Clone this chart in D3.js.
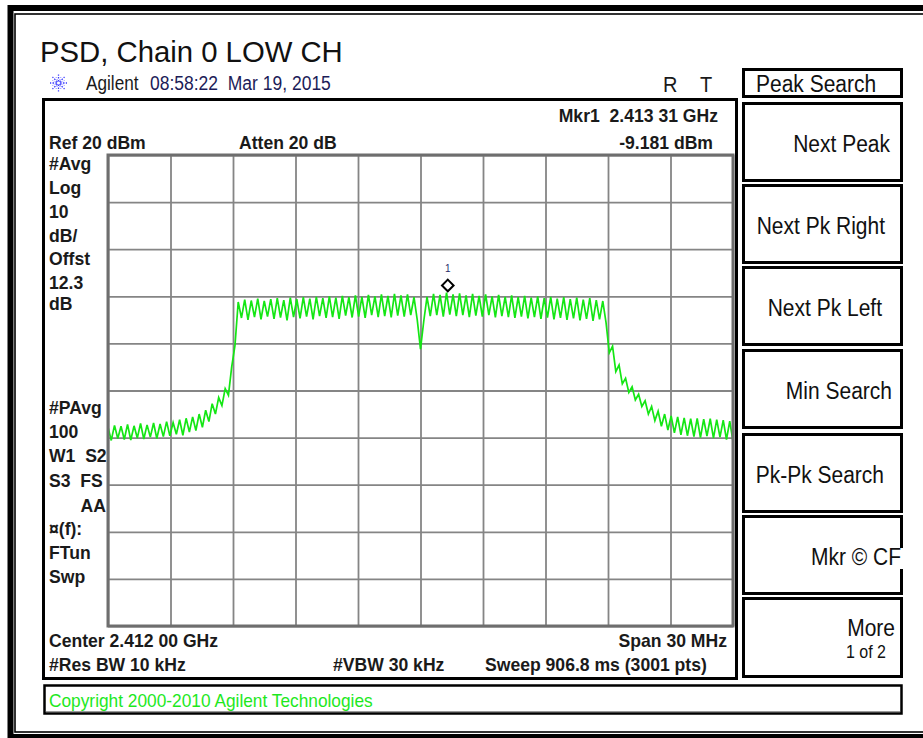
<!DOCTYPE html>
<html><head><meta charset="utf-8">
<script src="https://cdn.jsdelivr.net/npm/d3@7"></script>
<style>
html,body{margin:0;padding:0;background:#fff;}
svg{display:block;font-family:"Liberation Sans",Arial,sans-serif;}
text{white-space:pre;}
</style></head><body>
<svg id="c" width="923" height="738"></svg>
<script>
// ---------------- data ----------------
const titleText = "PSD, Chain 0 LOW CH";
const freqStartMHz = 2397, freqStopMHz = 2427, freqStepMHz = 0.15625;
const freqTicksMHz = [2397,2400,2403,2406,2409,2412,2415,2418,2421,2424,2427];
const levelTicksDbm = [20,10,0,-10,-20,-30,-40,-50,-60,-70,-80];
const traceDbm = [
 -37.8,-40.6,-37.4,-40.2,-37.6,-40.4,-37.2,-40.5,-37.5,-40.1,
 -37.0,-40.3,-37.3,-39.9,-36.9,-40.2,-37.1,-39.8,-36.6,-39.6,
 -36.8,-39.3,-36.2,-39.5,-35.9,-38.8,-35.6,-38.5,-35.0,-37.8,
 -34.2,-36.6,-32.8,-35.0,-31.5,-33.2,-29.6,-31.0,-25.0,-20.5,
 -11.2,-14.6,-10.7,-15.0,-10.9,-14.4,-10.5,-14.9,-11.0,-14.3,
 -10.6,-14.8,-10.4,-14.5,-10.8,-15.1,-10.3,-14.4,-10.6,-14.7,
 -10.2,-14.3,-10.5,-14.9,-10.1,-14.2,-10.4,-14.6,-10.0,-14.4,
 -10.3,-14.8,-9.9,-14.1,-10.2,-14.5,-9.8,-14.3,-10.1,-14.6,
 -9.7,-14.0,-10.0,-14.4,-9.6,-14.2,-9.9,-14.5,-9.5,-14.1,
 -9.8,-14.3,-9.6,-14.0,-10.2,-15.0,-21.2,-15.3,-10.1,-14.2,
 -9.5,-14.0,-9.7,-14.3,-9.2,-13.9,-9.6,-14.2,-9.4,-14.0,
 -9.8,-14.4,-9.5,-14.1,-9.9,-14.3,-9.6,-14.0,-10.0,-14.5,
 -9.7,-14.2,-10.1,-14.4,-9.8,-14.6,-10.2,-14.3,-9.9,-14.7,
 -10.3,-14.4,-10.0,-14.8,-10.4,-14.5,-10.1,-14.9,-10.5,-14.6,
 -10.2,-15.0,-10.6,-14.7,-10.3,-15.1,-10.7,-14.8,-10.4,-15.2,
 -10.8,-14.9,-11.0,-15.6,-22.0,-20.6,-26.0,-24.6,-28.6,-27.4,
 -30.4,-29.2,-32.0,-30.8,-33.4,-32.2,-35.0,-33.4,-36.4,-34.4,
 -37.6,-35.0,-38.4,-35.4,-39.0,-35.6,-39.4,-35.8,-39.6,-36.0,
 -39.8,-35.9,-40.0,-36.1,-39.7,-36.0,-40.1,-36.2,-39.9,-36.3,
 -40.4,-36.5,-40.8
];
const markerFreqMHz = [2413.31];
const markerDbm = [-9.181];
const markerNames = ["1"];
const leftLabels = ["#Avg","Log","10","dB/","Offst","12.3","dB","#PAvg","100","W1  S2","S3  FS","AA","\u00a4(f):","FTun","Swp"];
const softkeyLabels = ["Next Peak","Next Pk Right","Next Pk Left","Min Search","Pk-Pk Search","Mkr \u00a9 CF","More"];
const menuTitle = "Peak Search";
const headerTexts = ["Agilent","08:58:22  Mar 19, 2015","R","T"];
const infoTexts = ["Ref 20 dBm","Atten 20 dB","Mkr1  2.413 31 GHz","-9.181 dBm",
  "Center 2.412 00 GHz","Span 30 MHz","#Res BW 10 kHz","#VBW 30 kHz","Sweep 906.8 ms (3001 pts)"];
const copyrightText = "Copyright 2000-2010 Agilent Technologies";

// ---------------- layout ----------------
const svg = d3.select("#c");
const PL = 108, PR = 733, PT = 155, PB = 626;
const x = d3.scaleLinear().domain([freqStartMHz, freqStopMHz]).range([PL, PR]);
const y = d3.scaleLinear().domain([-80, 20]).range([PB, PT]);

// text helper with slight vertical stretch (instrument screen font)
function txt(t, xx, yy, opts){
  const o = Object.assign({size:17, weight:"normal", fill:"#1a1a1a", anchor:"start", sy:1.1}, opts||{});
  return svg.append("text").attr("transform",`translate(${xx},${yy}) scale(1,${o.sy})`)
    .attr("font-size",o.size).attr("font-weight",o.weight).attr("fill",o.fill)
    .attr("text-anchor",o.anchor).text(t);
}

// outer frame
svg.append("rect").attr("x",10.5).attr("y",8).attr("width",930).attr("height",729)
  .attr("fill","none").attr("stroke","#000").attr("stroke-width",6);
svg.append("rect").attr("x",15).attr("y",14).attr("width",920).attr("height",718)
  .attr("fill","none").attr("stroke","#000").attr("stroke-width",1.6);

// title
txt(titleText, 40, 62, {size:29.3, fill:"#111", sy:1.03});

// Agilent logo (dotted starburst)
const logo = svg.append("g").attr("transform","translate(58.5,83)");
for (let k=0;k<8;k++){
  const a = k*Math.PI/4;
  logo.append("line").attr("x1",1.5*Math.cos(a)).attr("y1",1.5*Math.sin(a))
    .attr("x2",8.5*Math.cos(a)).attr("y2",8.5*Math.sin(a))
    .attr("stroke","#3a3aff").attr("stroke-width",1.3).attr("stroke-dasharray","1.6,1.3");
}
for (let k=0;k<8;k++){
  const a = k*Math.PI/4+Math.PI/8;
  logo.append("line").attr("x1",3*Math.cos(a)).attr("y1",3*Math.sin(a))
    .attr("x2",6.5*Math.cos(a)).attr("y2",6.5*Math.sin(a))
    .attr("stroke","#7a7aff").attr("stroke-width",1).attr("stroke-dasharray","1.2,1.4");
}
txt(headerTexts[0], 86, 90, {size:17.2, sy:1.15});
txt(headerTexts[1], 150, 90, {size:17.5, fill:"#1c1c58", sy:1.15});
txt(headerTexts[2], 663, 92, {size:20});
txt(headerTexts[3], 700, 92, {size:20});

// main panel
svg.append("rect").attr("x",43.5).attr("y",99.5).attr("width",693).attr("height",579)
  .attr("fill","none").attr("stroke","#000").attr("stroke-width",3);

// grid via axes
const gx = svg.append("g").attr("transform",`translate(0,${PB})`)
  .call(d3.axisBottom(x).tickValues(freqTicksMHz).tickSize(-(PB-PT)).tickFormat(""));
const gy = svg.append("g").attr("transform",`translate(${PL},0)`)
  .call(d3.axisLeft(y).tickValues(levelTicksDbm).tickSize(-(PR-PL)).tickFormat(""));
[gx,gy].forEach(g=>{
  g.select(".domain").remove();
  g.selectAll(".tick line").attr("stroke","#858585").attr("stroke-width",1.8);
});

// trace
svg.append("clipPath").attr("id","plotclip").append("rect")
  .attr("x",PL).attr("y",PT).attr("width",PR-PL).attr("height",PB-PT);
const line = d3.line().x((d,i)=>x(freqStartMHz + i*freqStepMHz)).y(d=>y(d));
svg.append("path").datum(traceDbm).attr("d",line).attr("clip-path","url(#plotclip)")
  .attr("fill","none").attr("stroke","#14e614").attr("stroke-width",1.7).attr("stroke-linejoin","miter");

// grid border
svg.append("rect").attr("x",PL).attr("y",PT).attr("width",PR-PL).attr("height",PB-PT)
  .attr("fill","none").attr("stroke","#6e6e6e").attr("stroke-width",3);

// marker
markerFreqMHz.forEach((f,i)=>{
  const cx = x(f), cy = y(markerDbm[i]) - 7, h = 5.8;
  svg.append("path").attr("d",`M${cx},${cy-h}L${cx+h},${cy}L${cx},${cy+h}L${cx-h},${cy}Z`)
    .attr("fill","#fff").attr("stroke","#000").attr("stroke-width",2);
  txt(markerNames[i], cx, cy-13, {size:10, fill:"#2a2a6a", anchor:"middle", sy:1});
});

// info texts (bold)
const bold = (t,xx,yy,anchor)=>txt(t, xx, yy, {size:17.6, weight:"bold", anchor:anchor||"start", sy:1.08});
bold(infoTexts[0],49,149);
bold(infoTexts[1],239,149);
bold(infoTexts[2],718,122,"end");
bold(infoTexts[3],713,149,"end");
bold(infoTexts[4],49,647);
bold(infoTexts[5],727,647,"end");
bold(infoTexts[6],49,671);
bold(infoTexts[7],333,671);
bold(infoTexts[8],485,671);

const leftY = [170,194,218,242,265,289,310,414,438,462,487,512,535,559,583];
leftLabels.forEach((t,i)=>{
  if (t==="AA") bold(t,106,leftY[i],"end"); else bold(t,49,leftY[i]);
});

// copyright bar
svg.append("rect").attr("x",44.5).attr("y",685.5).attr("width",857).attr("height",28)
  .attr("fill","none").attr("stroke","#000").attr("stroke-width",2.5);
svg.append("line").attr("x1",46).attr("x2",900).attr("y1",711.5).attr("y2",711.5)
  .attr("stroke","#9a9a9a").attr("stroke-width",1);
txt(copyrightText, 49, 707, {size:17.3, fill:"#1ee81e", sy:1.08});

// softkey panel
svg.append("rect").attr("x",743.5).attr("y",69.5).attr("width",158).attr("height",27)
  .attr("fill","none").attr("stroke","#000").attr("stroke-width",3);
txt(menuTitle, 756, 92, {size:21, fill:"#111"});

const skBoxes = [[103,181],[185,263],[267,345],[350,428],[434,512],[516,594],[598,677]];
const skEnd = [890,885,882,892,884,901,895];
softkeyLabels.forEach((t,i)=>{
  const [y0,y1] = skBoxes[i];
  if (i===5){
    svg.append("path").attr("d",`M901.5,548V${y0+0.5}H743.5V${y1-0.5}H901.5V569`)
      .attr("fill","none").attr("stroke","#000").attr("stroke-width",3);
  } else {
    svg.append("rect").attr("x",743.5).attr("y",y0+0.5).attr("width",158).attr("height",y1-y0-1)
      .attr("fill","none").attr("stroke","#000").attr("stroke-width",3);
  }
  const by = (i===6) ? 636 : (y0+y1)/2 + 9.5;
  txt(t, skEnd[i], by, {size:21, fill:"#111", anchor:"end"});
});
txt("1 of 2", 886, 658, {size:16, fill:"#111", anchor:"end"});
</script></body></html>
